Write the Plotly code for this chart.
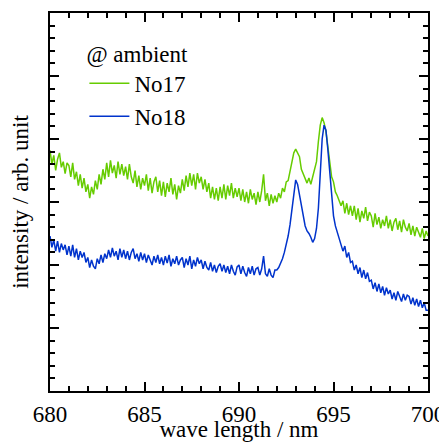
import numpy as np
import plotly.graph_objects as go

# wavelength grid (nm): 680.0 .. 700.0 in 0.1 nm steps
wl_start = 680.0
wl_step = 0.1
wl_count = 201

legend_title = "@ ambient"
series_names = ["No17", "No18"]

no17 = [
    3.82, 3.60, 3.74, 3.50, 3.68, 3.78, 3.55, 3.64, 3.45, 3.62,
    3.58, 3.40, 3.62, 3.36, 3.48, 3.26, 3.44, 3.22, 3.38, 3.16,
    3.28, 3.06, 3.24, 3.12, 3.34, 3.20, 3.44, 3.28, 3.52, 3.36,
    3.62, 3.40, 3.66, 3.46, 3.58, 3.38, 3.64, 3.44, 3.60, 3.42,
    3.56, 3.36, 3.60, 3.40, 3.30, 3.50, 3.24, 3.42, 3.20, 3.38,
    3.26, 3.44, 3.18, 3.38, 3.14, 3.32, 3.40, 3.16, 3.34, 3.10,
    3.32, 3.08, 3.30, 3.16, 3.38, 3.12, 3.28, 3.04, 3.26, 3.14,
    3.36, 3.18, 3.42, 3.24, 3.46, 3.26, 3.44, 3.20, 3.46, 3.30,
    3.40, 3.20, 3.36, 3.16, 3.30, 3.06, 3.24, 3.04, 3.22, 3.02,
    3.24, 3.06, 3.28, 3.04, 3.26, 3.10, 3.30, 3.06, 3.22, 3.08,
    3.22, 3.02, 3.20, 3.00, 3.16, 2.98, 3.20, 3.04, 3.14, 2.96,
    3.16, 3.00, 3.18, 3.44, 3.02, 3.14, 2.94, 3.12, 2.98, 3.10,
    3.00, 3.14, 3.06, 3.22, 3.16, 3.32, 3.34, 3.50, 3.60, 3.78,
    3.84, 3.78, 3.72, 3.52, 3.44, 3.36, 3.30, 3.38, 3.28, 3.40,
    3.50, 3.64, 3.96, 4.22, 4.34, 4.26, 4.12, 3.86, 3.64, 3.40,
    3.32, 3.16, 3.10, 3.00, 2.94, 3.02, 2.82, 2.98, 2.80, 2.94,
    2.78, 2.94, 2.72, 2.90, 2.68, 2.86, 2.74, 2.92, 2.70, 2.84,
    2.78, 2.60, 2.82, 2.64, 2.76, 2.58, 2.72, 2.62, 2.78, 2.58,
    2.72, 2.54, 2.68, 2.74, 2.56, 2.70, 2.52, 2.72, 2.60, 2.54,
    2.66, 2.48, 2.62, 2.46, 2.60, 2.52, 2.44, 2.58, 2.42, 2.54,
    2.46,
]

no18 = [
    2.46, 2.28, 2.40, 2.22, 2.38, 2.20, 2.34, 2.24, 2.32, 2.16,
    2.30, 2.14, 2.32, 2.12, 2.26, 2.08, 2.22, 2.12, 2.20, 2.04,
    2.12, 1.96, 2.08, 1.98, 1.94, 2.10, 2.02, 2.16, 2.04, 2.18,
    2.10, 2.24, 2.12, 2.27, 2.14, 2.22, 2.08, 2.26, 2.12, 2.24,
    2.10, 2.22, 2.08, 2.20, 2.26, 2.10, 2.18, 2.06, 2.20, 2.08,
    2.18, 2.04, 2.16, 2.06, 2.00, 2.14, 2.04, 2.16, 2.02, 2.12,
    2.00, 2.14, 2.03, 2.16, 1.98, 2.10, 2.02, 2.14, 2.00, 2.08,
    2.12, 1.96, 2.10, 2.00, 2.14, 1.94, 2.08, 1.98, 2.12, 2.02,
    2.08, 1.94, 2.06, 1.96, 1.92, 2.04, 1.90, 2.00, 1.88, 1.98,
    2.02, 1.90, 2.00, 1.88, 1.98, 1.86, 2.00, 1.90, 1.84, 1.97,
    2.00, 1.86, 1.98, 1.88, 1.82, 1.96, 1.86, 1.98, 1.84, 1.94,
    1.96, 1.84, 1.94, 2.14, 1.86, 1.82, 1.94, 1.84, 1.80, 1.92,
    1.92, 1.96, 2.02, 2.10, 2.20, 2.32, 2.46, 2.64, 2.90, 3.14,
    3.35, 3.28, 3.10, 2.92, 2.74, 2.62, 2.54, 2.50, 2.44, 2.36,
    2.42, 2.58, 2.90, 3.50, 4.00, 4.22, 4.14, 3.84, 3.44, 3.04,
    2.78, 2.62, 2.52, 2.40, 2.34, 2.22, 2.30, 2.12, 2.20, 2.04,
    2.06, 1.92, 2.00, 1.86, 1.96, 1.80, 1.92, 1.78, 1.88, 1.74,
    1.76, 1.62, 1.72, 1.58, 1.70, 1.56, 1.66, 1.52, 1.64, 1.54,
    1.60, 1.46, 1.56, 1.44, 1.58, 1.48, 1.42, 1.54, 1.44, 1.52,
    1.50, 1.38, 1.48, 1.36, 1.46, 1.34, 1.44, 1.32, 1.40, 1.28,
    1.28,
]

x_tickvals = [680, 685, 690, 695, 700]
x_ticktext = ["680", "685", "690", "695", "700"]

wavelength = np.round(wl_start + wl_step * np.arange(wl_count), 2)

colors = ["#66cc00", "#0033cc"]
FONT = "Liberation Serif, Times New Roman, serif"
FS = 23

fig = go.Figure()
for name, vals, c in zip(series_names, [no17, no18], colors):
    fig.add_trace(go.Scatter(x=wavelength, y=vals, mode="lines", name=name,
                             line=dict(color=c, width=1.5)))

axis_common = dict(
    showline=True, linecolor="black", linewidth=2, mirror="allticks",
    ticks="inside", tickcolor="black", tickwidth=2, showgrid=False, zeroline=False,
    automargin=False,
)

# the page body adds an 8px offset, so the figure is sized to end at the window edge
fig.update_layout(
    width=439, height=434,
    margin=dict(l=42, r=19, t=5, b=51),
    paper_bgcolor="white", plot_bgcolor="white",
    font=dict(family=FONT, size=FS, color="black"),
    xaxis=dict(range=[680, 700], tickvals=x_tickvals, ticktext=x_ticktext, ticklen=9,
               ticklabelstandoff=1,
               minor=dict(dtick=1, ticklen=5, tickwidth=2, tickcolor="black", ticks="inside"),
               title=dict(text="wave length / nm", standoff=2, font=dict(size=FS)),
               tickfont=dict(size=FS), **axis_common),
    yaxis=dict(range=[0, 6], dtick=1, tick0=0, ticklen=9, showticklabels=False,
               minor=dict(dtick=0.2, ticklen=5, tickwidth=2, tickcolor="black", ticks="inside"),
               title=dict(text="intensity / arb. unit", standoff=14, font=dict(size=FS)),
               **axis_common),
    legend=dict(x=0.091, y=0.95, xanchor="left", yanchor="top",
                bgcolor="rgba(0,0,0,0)", font=dict(size=FS),
                title=dict(text=legend_title, font=dict(size=FS)),
                tracegroupgap=0, itemwidth=40),
    showlegend=True,
)

fig.write_html("out.html")
